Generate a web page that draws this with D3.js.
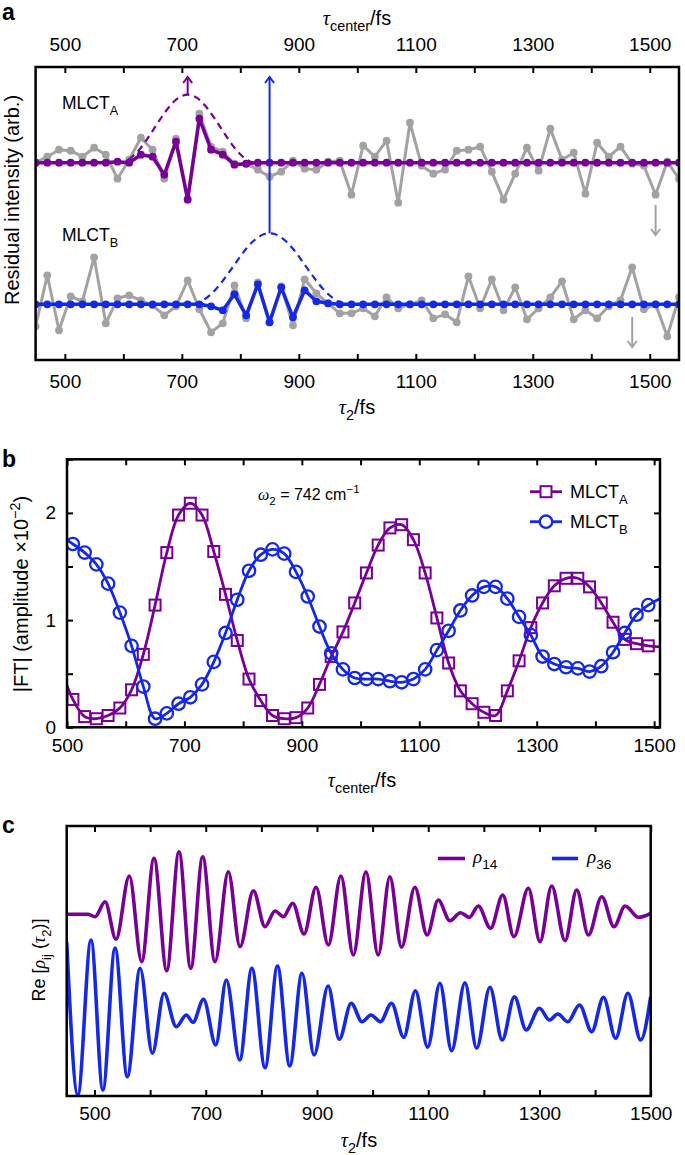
<!DOCTYPE html>
<html><head><meta charset="utf-8">
<script src="https://cdn.jsdelivr.net/npm/d3@7"></script>
<style>body{margin:0;background:#fff}svg{display:block}</style>
</head><body><svg id="chart" width="685" height="1155"></svg>
<script>
// ---------------- DATA ----------------
// Panel a: residual intensities on the tau2 grid (arb. units)
const tau2Grid = [450,470,490,510,530,550,570,590,610,630,650,670,690,710,730,750,770,790,810,830,850,870,890,910,930,950,970,990,1010,1030,1050,1070,1090,1110,1130,1150,1170,1190,1210,1230,1250,1270,1290,1310,1330,1350,1370,1390,1410,1430,1450,1470,1490,1510,1530,1550];
const residGrayA = [0.0,0.6,1.3,1.2,0.6,1.5,0.8,-1.6,0.3,2.5,1.3,-1.6,2.4,-3.6,4.9,1.6,1.1,-0.1,-0.1,-0.7,-1.4,-0.9,0.2,-0.6,-0.7,0.1,0.2,-3.2,1.7,0.6,2.2,-4.0,4.0,-0.3,-1.1,-0.7,1.2,1.3,1.6,-0.9,-3.7,-1.1,1.5,-0.8,3.4,0.3,1.0,-3.1,2.0,0.6,1.6,-0.1,-0.3,-3.2,0.1,-1.6];
const residFitA  = [0,0,0,0,0,0,0,0.1,0,0.8,0.6,-1.2,2.1,-3.7,4.4,1.3,0.8,-0.2,-0.1,0,0,0,0,0,0,0,0,0,0,0,0,0,0,0,0,0,0,0,0,0,0,0,0,0,0,0,0,0,0,0,0,0,0,0,0,0];
const residGrayB = [-2.2,2.9,-2.6,0.8,0.3,4.7,-1.9,0.6,0.9,0.4,-0.1,-1.1,-0.2,2.4,-0.5,-2.8,-1.9,1.9,-1.4,2.2,-1.8,1.8,-2.1,2.5,1.1,0.1,-0.9,-0.9,-0.4,-1.2,0.7,-0.4,0.0,0.4,-1.4,-1.0,-1.8,2.8,-0.4,2.5,-0.6,1.7,-1.5,-0.4,0.7,2.3,-1.5,-0.6,-1.4,-0.2,0.4,3.7,-0.5,0.0,-3.2,0.7];
const residFitB  = [0,0,0,0,0,0,0,0,0,0,0,0,0,0,0,-0.2,-0.6,1.0,-1.1,2.0,-1.8,1.7,-1.3,1.4,0.3,0.1,0,0,0,0,0,0,0,0,0,0,0,0,0,0,0,0,0,0,0,0,0,0,0,0,0,0,0,0,0,0];
// window envelopes (dashed)
const envTauA = [590,600,610,620,630,640,650,660,670,680,690,700,710,720,730,740,750,760,770,780,790,800,810,820,830];
const envValA = [0,0.06,0.36,0.85,1.5,2.3,3.18,4.08,4.94,5.7,6.3,6.67,6.8,6.67,6.3,5.7,4.94,4.08,3.18,2.3,1.5,0.85,0.36,0.06,0];
const envTauB = [720,730,740,750,760,770,780,790,800,810,820,830,840,850,860,870,880,890,900,910,920,930,940,950,960,970,980];
const envValB = [0,0.21,0.55,1.03,1.63,2.35,3.14,3.96,4.8,5.55,6.2,6.68,7.0,7.1,7.0,6.68,6.2,5.55,4.8,3.96,3.14,2.35,1.63,1.03,0.55,0.21,0];
const offsetA = 14.16, offsetB = 0;
const seriesLabelsA = ["MLCT", "A"], seriesLabelsB = ["MLCT", "B"];
const tickValsA = [500,600,700,800,900,1000,1100,1200,1300,1400,1500];
const tickLabelsA = [500,700,900,1100,1300,1500];

// Panel b: |FT| amplitude (x10^-2) vs tau_center
const tauCenter = [490,510,530,550,570,590,610,630,650,670,690,710,730,750,770,790,810,830,850,870,890,910,930,950,970,990,1010,1030,1050,1070,1090,1110,1130,1150,1170,1190,1210,1230,1250,1270,1290,1310,1330,1350,1370,1390,1410,1430,1450,1470,1490,1510];
const ftA = [0.55,0.26,0.10,0.08,0.11,0.18,0.35,0.68,1.14,1.63,1.98,2.09,1.98,1.64,1.24,0.81,0.45,0.25,0.11,0.08,0.09,0.18,0.40,0.66,0.89,1.16,1.44,1.70,1.86,1.89,1.75,1.44,1.02,0.60,0.34,0.22,0.14,0.11,0.34,0.62,0.93,1.16,1.32,1.39,1.39,1.31,1.16,0.98,0.82,0.78,0.76,0.75];
const ftB = [1.78,1.71,1.63,1.52,1.34,1.07,0.76,0.38,0.08,0.13,0.22,0.28,0.40,0.61,0.88,1.19,1.46,1.61,1.66,1.62,1.45,1.22,0.94,0.69,0.54,0.46,0.45,0.45,0.43,0.42,0.45,0.54,0.72,0.90,1.09,1.23,1.31,1.31,1.20,1.03,0.86,0.66,0.59,0.56,0.55,0.52,0.57,0.70,0.88,1.05,1.14,1.2];
const yTicksB = [0,0.5,1,1.5,2,2.5];
const yLabelsB = [0,1,2];
const tickValsB = [500,600,700,800,900,1000,1100,1200,1300,1400,1500];
const tickLabelsB = [500,700,900,1100,1300,1500];

// Panel c: Re[rho_ij(tau2)] (extrema)
const rho14Tau = [450,488,501,519,538.6,562.6,584.8,607,629.8,651.9,673,694.5,716.6,740.6,761.6,785.6,806.5,824.5,839.5,856.4,876.7,898.3,920.4,943,965.3,988,1010,1031,1052,1076,1098,1118,1139,1158,1174,1190,1212,1234,1254,1280,1301,1322,1346,1367,1388,1412,1434,1454,1478,1500];
const rho14Val = [0,0,-0.24,1.26,-2.5,3.83,-4.74,5.6,-5.64,6.26,-5.4,5.76,-4.74,4.26,-3.24,2.36,-1.24,0.33,-0.24,1.1,-1.97,2.7,-3.07,3.83,-4.07,4.26,-4.07,3.76,-3.3,2.7,-2.07,1.43,-0.64,0.16,-0.3,0.83,-1.4,1.93,-2.24,2.6,-2.74,2.83,-2.64,2.43,-2.07,1.76,-1.24,0.83,-0.3,0.1];
const rho36Tau = [450,470,493.7,515,537,559,582,604,625,647,665,677,696,718,737,761,783,806.6,829,851,873,894.7,920,940,961.5,981,997,1014,1034,1056,1077,1099,1121,1142,1166,1187,1211,1233,1255,1276,1300,1318,1333,1351,1372,1394,1415,1437,1459,1482,1500];
const rho36Val = [7.6,-7.7,7.8,-7.2,7.0,-5.87,4.97,-3.53,2.47,-0.87,0.3,-0.43,1.87,-2.7,3.8,-4.2,4.97,-4.97,5.2,-4.8,4.47,-3.7,3.2,-2.13,1.47,-0.37,0.3,-0.37,1.47,-1.93,2.73,-2.93,3.47,-3.27,3.53,-3.03,3.07,-2.2,2.13,-1.2,0.97,-0.2,0.4,-0.37,1.3,-1.37,2.07,-2.03,2.47,-2.2,2.13];
const offset14 = 10.37, offset36 = 0;
const tickValsC = [500,600,700,800,900,1000,1100,1200,1300,1400,1500];
const tickLabelsC = [500,700,900,1100,1300,1500];

// ---------------- STYLE ----------------
const FONT = '"Liberation Sans", Arial, Helvetica, sans-serif';
const SERIF = '"Liberation Serif", "DejaVu Serif", serif';
const PURPLE = '#780096', BLUE = '#1428e6', GRAY = '#a2a2a2';
const TICKFS = 19;
const svg = d3.select('#chart');
svg.append('rect').attr('width',685).attr('height',1155).attr('fill','#fff');

function rich(g, x, y, parts, size, anchor, rotate) {
  const t = g.append('text').attr('font-family', FONT).attr('font-size', size)
    .attr('text-anchor', anchor || 'start').attr('fill', '#000');
  if (rotate) t.attr('transform', `translate(${x},${y}) rotate(-90)`);
  else t.attr('x', x).attr('y', y);
  let shift = 0;
  parts.forEach(p => {
    const ts = t.append('tspan').text(p.t);
    const target = p.sub ? size * 0.32 : p.sup ? -size * 0.42 : 0;
    if (target - shift !== 0) ts.attr('dy', target - shift);
    shift = target;
    if (p.sub || p.sup) ts.attr('font-size', size * 0.72);
    if (p.it) ts.attr('font-style', 'italic');
    if (p.serif) ts.attr('font-family', SERIF);
  });
  return t;
}
function styleAxis(g) {
  g.select('.domain').remove();
  g.selectAll('.tick line').attr('stroke', '#000').attr('stroke-width', 2);
  g.selectAll('.tick text').attr('font-size', TICKFS).attr('font-family', FONT).attr('fill', '#000');
}
function panelLetter(x, y, s) {
  svg.append('text').attr('x', x).attr('y', y).attr('font-family', FONT).attr('font-weight', 'bold')
    .attr('font-size', 23).text(s);
}
function arrow(g, x, y1, y2, color, w) {
  const dir = y2 < y1 ? 1 : -1;
  g.append('line').attr('x1', x).attr('x2', x).attr('y1', y1).attr('y2', y2)
    .attr('stroke', color).attr('stroke-width', w);
  g.append('path').attr('d', `M${x-4.5},${y2+dir*6}L${x},${y2}L${x+4.5},${y2+dir*6}`)
    .attr('fill', 'none').attr('stroke', color).attr('stroke-width', w);
}

// ---------------- PANEL A ----------------
(function(){
  const L=35.6, R=679, T=67, B=360;
  const x = d3.scaleLinear().domain([450,1550]).range([L,R]);
  const y = d3.scaleLinear().domain([-5.57,23.73]).range([B,T]);
  const g = svg.append('g');
  g.append('clipPath').attr('id','clipA').append('rect').attr('x',L).attr('y',T).attr('width',R-L).attr('height',B-T);
  const pg = g.append('g').attr('clip-path','url(#clipA)');
  const fmt = d => tickLabelsA.includes(d) ? d : '';
  styleAxis(g.append('g').attr('transform',`translate(0,${T})`)
    .call(d3.axisTop(x).tickValues(tickValsA).tickSize(-6).tickPadding(16).tickFormat(fmt)));
  styleAxis(g.append('g').attr('transform',`translate(0,${B})`)
    .call(d3.axisBottom(x).tickValues(tickValsA).tickSize(-6).tickPadding(15).tickFormat(fmt)));

  const series = [
    {gray: residGrayA, fit: residFitA, off: offsetA, color: PURPLE, envT: envTauA, envV: envValA},
    {gray: residGrayB, fit: residFitB, off: offsetB, color: BLUE, envT: envTauB, envV: envValB}
  ];
  series.forEach(s => {
    const line = d3.line().x((d,i)=>x(tau2Grid[i])).y(d=>y(d+s.off));
    pg.append('path').attr('d', line(s.gray)).attr('fill','none').attr('stroke',GRAY).attr('stroke-width',3).attr('stroke-linejoin','round');
    pg.selectAll(null).data(s.gray).enter().append('circle')
      .attr('cx',(d,i)=>x(tau2Grid[i])).attr('cy',d=>y(d+s.off)).attr('r',3.9).attr('fill',GRAY);
    const env = d3.line().x((d,i)=>x(s.envT[i])).y(d=>y(d+s.off)).curve(d3.curveCatmullRom);
    pg.append('path').attr('d', env(s.envV)).attr('fill','none').attr('stroke',s.color).attr('stroke-width',2.2).attr('stroke-dasharray','7,5');
    pg.append('path').attr('d', line(s.fit)).attr('fill','none').attr('stroke',s.color).attr('stroke-width',3.5).attr('stroke-linejoin','round');
    pg.selectAll(null).data(s.fit).enter().append('circle')
      .attr('cx',(d,i)=>x(tau2Grid[i])).attr('cy',d=>y(d+s.off)).attr('r',3.9).attr('fill',s.color);
  });
  arrow(g, x(710), y(6.8+offsetA), y(22.73), PURPLE, 2);
  arrow(g, x(850), y(7.1+offsetB), y(22.73), BLUE, 2);
  arrow(g, x(1510), y(9.93), y(6.93), GRAY, 2);
  arrow(g, x(1470), y(-1.27), y(-4.27), GRAY, 2);

  rich(g, 62, 109, [{t:seriesLabelsA[0]},{t:seriesLabelsA[1],sub:true}], 17.5);
  rich(g, 62, 241, [{t:seriesLabelsB[0]},{t:seriesLabelsB[1],sub:true}], 17.5);

  g.append('rect').attr('x',L).attr('y',T).attr('width',R-L).attr('height',B-T).attr('fill','none').attr('stroke','#000').attr('stroke-width',2.5);

  rich(g, 357, 25, [{t:'τ',serif:true,it:true},{t:'center',sub:true},{t:'/fs'}], 20, 'middle');
  rich(g, 357, 414, [{t:'τ',serif:true,it:true},{t:'2',sub:true},{t:'/fs'}], 20, 'middle');
  rich(g, 19, 200, [{t:'Residual intensity (arb.)'}], 20, 'middle', true);
  panelLetter(2, 20, 'a');
})();

// ---------------- PANEL B ----------------
(function(){
  const L=67, R=660, T=459.3, B=727.3;
  const x = d3.scaleLinear().domain([500,1510]).range([L,R]);
  const y = d3.scaleLinear().domain([0,2.5]).range([B,T]);
  const g = svg.append('g');
  g.append('clipPath').attr('id','clipB').append('rect').attr('x',L).attr('y',T).attr('width',R-L).attr('height',B-T);
  const pg = g.append('g').attr('clip-path','url(#clipB)');
  const fmt = d => tickLabelsB.includes(d) ? d : '';
  styleAxis(g.append('g').attr('transform',`translate(0,${T})`).call(d3.axisTop(x).tickValues(tickValsB).tickSize(-6).tickFormat(()=>'')));
  styleAxis(g.append('g').attr('transform',`translate(0,${B})`).call(d3.axisBottom(x).tickValues(tickValsB).tickSize(-6).tickPadding(11).tickFormat(fmt)));
  styleAxis(g.append('g').attr('transform',`translate(${L},0)`).call(d3.axisLeft(y).tickValues(yTicksB).tickSize(-6).tickPadding(11).tickFormat(d=>yLabelsB.includes(d)?d:'')));
  styleAxis(g.append('g').attr('transform',`translate(${R},0)`).call(d3.axisRight(y).tickValues(yTicksB).tickSize(-6).tickFormat(()=>'')));

  const line = d3.line().x((d,i)=>x(tauCenter[i])).y(d=>y(d)).curve(d3.curveCatmullRom);
  const inside = (d,i)=> tauCenter[i] >= 505 && tauCenter[i] <= 1495;
  pg.append('path').attr('d', line(ftA)).attr('fill','none').attr('stroke',PURPLE).attr('stroke-width',2.8);
  const s = 11;
  pg.selectAll(null).data(ftA.map((v,i)=>[tauCenter[i],v]).filter((d,i)=>inside(d,i))).enter().append('rect')
    .attr('x',d=>x(d[0])-s/2).attr('y',d=>y(d[1])-s/2).attr('width',s).attr('height',s)
    .attr('fill','none').attr('stroke',PURPLE).attr('stroke-width',2);
  pg.append('path').attr('d', line(ftB)).attr('fill','none').attr('stroke',BLUE).attr('stroke-width',2.8);
  pg.selectAll(null).data(ftB.map((v,i)=>[tauCenter[i],v]).filter((d,i)=>inside(d,i))).enter().append('circle')
    .attr('cx',d=>x(d[0])).attr('cy',d=>y(d[1])).attr('r',6.2)
    .attr('fill','none').attr('stroke',BLUE).attr('stroke-width',2.3);

  g.append('line').attr('x1',530).attr('x2',562).attr('y1',491.7).attr('y2',491.7).attr('stroke',PURPLE).attr('stroke-width',2.8);
  g.append('rect').attr('x',546-s/2).attr('y',491.7-s/2).attr('width',s).attr('height',s).attr('fill','#fff').attr('stroke',PURPLE).attr('stroke-width',2);
  rich(g, 570, 498, [{t:'MLCT'},{t:'A',sub:true}], 18);
  g.append('line').attr('x1',530).attr('x2',562).attr('y1',521.7).attr('y2',521.7).attr('stroke',BLUE).attr('stroke-width',2.8);
  g.append('circle').attr('cx',546).attr('cy',521.7).attr('r',6.2).attr('fill','#fff').attr('stroke',BLUE).attr('stroke-width',2.3);
  rich(g, 570, 528, [{t:'MLCT'},{t:'B',sub:true}], 18);

  rich(g, 258, 500, [{t:'ω',serif:true,it:true},{t:'2',sub:true},{t:' = 742 cm'},{t:'−1',sup:true}], 16);

  g.append('rect').attr('x',L).attr('y',T).attr('width',R-L).attr('height',B-T).attr('fill','none').attr('stroke','#000').attr('stroke-width',2.5);
  rich(g, 362, 787, [{t:'τ',serif:true,it:true},{t:'center',sub:true},{t:'/fs'}], 20, 'middle');
  rich(g, 28, 594, [{t:'|FT| (amplitude ×10'},{t:'−2',sup:true},{t:')'}], 20, 'middle', true);
  panelLetter(2, 467, 'b');
})();

// ---------------- PANEL C ----------------
(function(){
  const L=66.7, R=650.7, T=826, B=1096;
  const x = d3.scaleLinear().domain([450,1500]).range([L,R]);
  const y = d3.scaleLinear().domain([-7.8,19.2]).range([B,T]);
  const g = svg.append('g');
  g.append('clipPath').attr('id','clipC').append('rect').attr('x',L).attr('y',T).attr('width',R-L).attr('height',B-T);
  const pg = g.append('g').attr('clip-path','url(#clipC)');
  const fmt = d => tickLabelsC.includes(d) ? d : '';
  styleAxis(g.append('g').attr('transform',`translate(0,${T})`).call(d3.axisTop(x).tickValues(tickValsC).tickSize(-6).tickFormat(()=>'')));
  styleAxis(g.append('g').attr('transform',`translate(0,${B})`).call(d3.axisBottom(x).tickValues(tickValsC).tickSize(-6).tickPadding(11).tickFormat(fmt)));

  const mk = (taus, off) => d3.line().x((d,i)=>x(taus[i])).y(d=>y(d+off)).curve(d3.curveMonotoneX);
  pg.append('path').attr('d', mk(rho14Tau, offset14)(rho14Val)).attr('fill','none').attr('stroke',PURPLE).attr('stroke-width',3.6);
  pg.append('path').attr('d', mk(rho36Tau, offset36)(rho36Val)).attr('fill','none').attr('stroke',BLUE).attr('stroke-width',3.6);

  g.append('line').attr('x1',438).attr('x2',465).attr('y1',858.5).attr('y2',858.5).attr('stroke',PURPLE).attr('stroke-width',3.6);
  rich(g, 473, 863, [{t:'ρ',serif:true,it:true},{t:'14',sub:true}], 19);
  g.append('line').attr('x1',552).attr('x2',578).attr('y1',858.5).attr('y2',858.5).attr('stroke',BLUE).attr('stroke-width',3.6);
  rich(g, 587, 863, [{t:'ρ',serif:true,it:true},{t:'36',sub:true}], 19);

  g.append('rect').attr('x',L).attr('y',T).attr('width',R-L).attr('height',B-T).attr('fill','none').attr('stroke','#000').attr('stroke-width',2.5);
  rich(g, 359, 1147, [{t:'τ',serif:true,it:true},{t:'2',sub:true},{t:'/fs'}], 20, 'middle');
  rich(g, 45, 960, [{t:'Re ['},{t:'ρ',serif:true,it:true},{t:'ij',sub:true},{t:' ('},{t:'τ',serif:true,it:true},{t:'2',sub:true},{t:')]'}], 18, 'middle', true);
  panelLetter(2, 833, 'c');
})();
</script></body></html>
